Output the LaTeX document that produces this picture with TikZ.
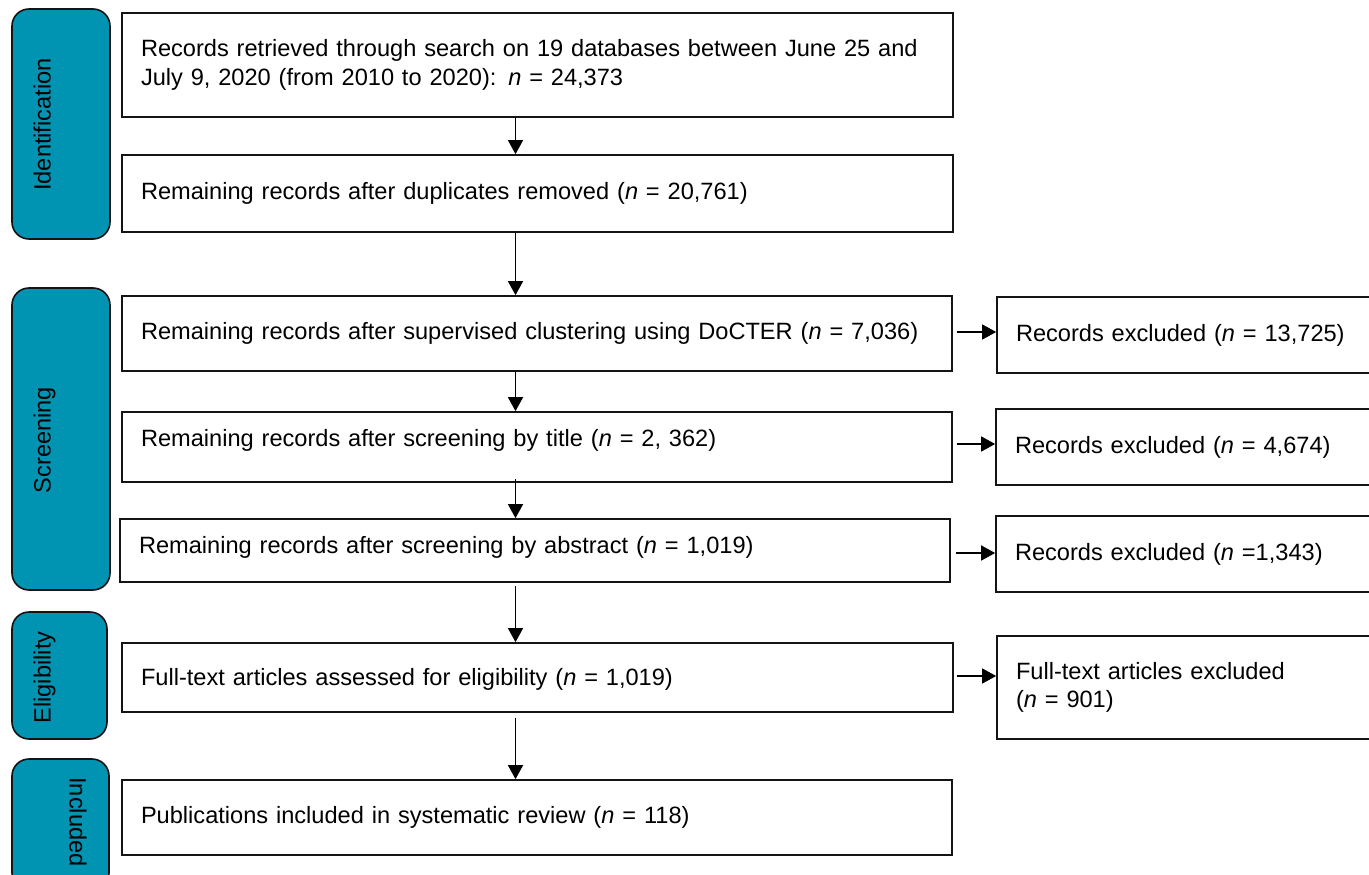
\documentclass[tikz,border=0pt]{standalone}
\usepackage{fontspec}
\setmainfont{Liberation Sans}
\usetikzlibrary{arrows.meta}
\definecolor{tealbox}{RGB}{0,147,178}
\definecolor{edge}{RGB}{20,20,20}
\newcommand\nn{\textit{n}}
\newcommand\upby[2]{\raisebox{#1}[\height][\depth]{#2}}
\begin{document}
\begin{tikzpicture}[x=1pt,y=-1pt,
  every node/.style={font=\fontsize{23.6}{28.5}\selectfont},
  mainbox/.style={draw=edge, line width=1.7pt, fill=white, inner xsep=19pt, inner ysep=0pt, align=left, anchor=center},
  sidebox/.style={draw=edge, line width=1.6pt, fill=tealbox, rounded corners=17pt, inner sep=0pt},
  sidetext/.style={anchor=base, inner sep=0pt, text=black},
  arr/.style={line width=1.5pt, draw=black, -{Triangle[length=14pt,width=15pt]}}]
\useasboundingbox (0,0) rectangle (1369,875);
\clip (0,0) rectangle (1369,875);
\fill[white] (0,0) rectangle (1369,875);

% phase boxes
\node[sidebox, minimum width=98pt, minimum height=230pt] (s1) at (61,124) {};
\node[sidetext, rotate=90] (t1) at (50.5,124.5) {Identification};
\node[sidebox, minimum width=98pt, minimum height=302pt] (s2) at (61,439) {};
\node[sidetext, rotate=90] (t2) at (50.5,440) {Screening};
\node[sidebox, minimum width=95pt, minimum height=127pt] (s3) at (59.5,675.5) {};
\node[sidetext, rotate=90] (t3) at (50.5,677.5) {Eligibility};
\node[sidebox, minimum width=97pt, minimum height=131pt] (s4) at (60.5,824.5) {};
\node[sidetext, rotate=-90] (t4) at (69.5,822) {Included};

% main column
\node[mainbox, text width=793pt, minimum height=104pt] (b1) at (537.5,65)
  {Records retrieved through search on 19 databases between June 25 and\\July 9, 2020 (from 2010 to 2020): \nn{} = 24,373};
\node[mainbox, text width=793pt, minimum height=77pt] (b2) at (537.5,193.5)
  {Remaining records after duplicates removed (\nn{} = 20,761)};
\node[mainbox, text width=792pt, minimum height=75pt] (b3) at (537,333.5)
  {Remaining records after supervised clustering using DoCTER (\nn{} = 7,036)};
\node[mainbox, text width=792pt, minimum height=70pt] (b4) at (537,447)
  {\upby{7pt}{Remaining records after screening by title (\nn{} = 2, 362)}};
\node[mainbox, text width=792pt, minimum height=63pt] (b5) at (535,550.5)
  {\upby{3pt}{Remaining records after screening by abstract (\nn{} = 1,019)}};
\node[mainbox, text width=793pt, minimum height=69pt] (b6) at (537.5,677.5)
  {\upby{-2pt}{Full-text articles assessed for eligibility (\nn{} = 1,019)}};
\node[mainbox, text width=792pt, minimum height=75pt] (b7) at (537,817.5)
  {Publications included in systematic review (\nn{} = 118)};

% excluded column
\node[mainbox, text width=355pt, minimum height=76pt] (r1) at (1193.5,335)
  {Records excluded (\nn{} = 13,725)};
\node[mainbox, text width=356pt, minimum height=76pt] (r2) at (1193,447)
  {Records excluded (\nn{} = 4,674)};
\node[mainbox, text width=356pt, minimum height=76pt] (r3) at (1193,554)
  {Records excluded (\nn{} =1,343)};
\node[mainbox, text width=355pt, minimum height=103pt] (r4) at (1193.5,687.5)
  {Full-text articles excluded\\(\nn{} = 901)};

% arrow column
\coordinate (col) at (515.5,0);
\draw[arr] (b1.south -| col) -- (b2.north -| col);
\draw[arr] (b2.south -| col) -- (b3.north -| col);
\draw[arr] (b3.south -| col) -- (b4.north -| col);
\draw[arr, shorten <=-4pt] (b4.south -| col) -- (b5.north -| col);
\draw[arr, shorten <=3pt] (b5.south -| col) -- (b6.north -| col);
\draw[arr, shorten <=5pt] (b6.south -| col) -- (b7.north -| col);

% side arrows
\draw[arr] ([shift={(4,-1.5)}]b3.east) -- ([shift={(0,-3)}]r1.west);
\draw[arr] ([shift={(4,-3)}]b4.east) -- ([shift={(0,-3)}]r2.west);
\draw[arr] ([shift={(5,2.5)}]b5.east) -- ([shift={(0,-1)}]r3.west);
\draw[arr] ([shift={(3,-1.5)}]b6.east) -- ([shift={(0,-11.5)}]r4.west);
\end{tikzpicture}
\end{document}
